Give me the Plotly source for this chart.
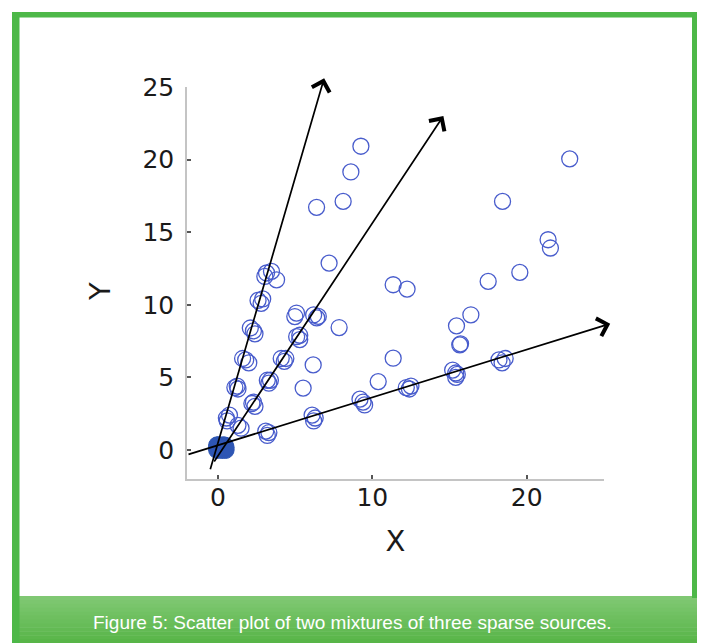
import plotly.graph_objects as go

# ---------------- data ----------------
# open-circle observations (x1, x2 mixtures)
x_vals = [
    # steep direction clusters
    3.15, 3.47, 3.80, 3.04,
    2.60, 2.80, 2.90,
    2.10, 2.30, 2.40,
    1.60, 1.80, 2.00,
    1.10, 1.30, 1.25,
    0.55, 0.75, 0.60,
    # middle direction clusters
    1.30, 1.50,
    2.20, 2.40, 2.30,
    3.20, 3.30, 3.40,
    4.10, 4.30, 4.40,
    5.10, 5.30, 5.30,
    5.09, 4.98,
    6.20, 6.40, 6.50,
    # shallow direction clusters
    3.10, 3.30, 3.20,
    6.10, 6.30, 6.20,
    9.20, 9.40, 9.50,
    12.20, 12.40, 12.50,
    15.20, 15.40, 15.40, 15.50,
    18.20, 18.40, 18.60,
    # mixed points
    6.17, 5.52, 7.85, 7.20, 6.39, 8.11, 8.61, 9.26,
    10.38, 11.35, 11.35, 12.25, 15.66,
    15.45, 16.38, 15.71, 17.50, 19.55, 21.38, 21.53, 18.43, 22.78,
]
y_vals = [
    12.19, 12.30, 11.72, 11.95,
    10.30, 10.10, 10.40,
    8.40, 8.20, 8.00,
    6.30, 6.20, 6.00,
    4.30, 4.20, 4.40,
    2.20, 2.40, 2.00,
    1.70, 1.50,
    3.20, 3.00, 3.30,
    4.80, 4.60, 4.80,
    6.30, 6.10, 6.30,
    7.80, 7.60, 7.90,
    9.43, 9.19,
    9.30, 9.10, 9.20,
    1.30, 1.20, 1.00,
    2.40, 2.20, 2.00,
    3.50, 3.30, 3.10,
    4.30, 4.20, 4.40,
    5.50, 5.30, 5.00, 5.20,
    6.20, 6.00, 6.30,
    5.86, 4.26, 8.43, 12.87, 16.71, 17.12, 19.15, 20.92,
    4.71, 6.32, 11.38, 11.08, 7.24,
    8.55, 9.31, 7.31, 11.61, 12.23, 14.48, 13.91, 17.12, 20.05,
]

# dense cluster of near-zero observations at the origin
x_origin = [-0.05, 0.10, 0.30, 0.45, 0.50, 0.20, 0.00, 0.35, -0.05, 0.45, 0.25, 0.15, 0.50, -0.05]
y_origin = [0.00, 0.32, 0.05, 0.30, 0.00, 0.20, 0.30, 0.32, 0.18, 0.15, 0.00, 0.10, 0.18, 0.32]

# estimated mixing directions drawn as arrows (tail -> head)
arrow_tail_x = [-0.52, -0.30, -2.00]
arrow_tail_y = [-1.43, -0.90, -0.34]
arrow_head_x = [6.88, 14.60, 25.40]
arrow_head_y = [25.60, 23.00, 8.70]

x_tick_vals = [0, 10, 20, 25]
x_tick_text = ["0", "10", "20", ""]
y_tick_vals = [0, 5, 10, 15, 20, 25]
y_tick_text = ["0", "5", "10", "15", "20", "25"]

caption = "Figure 5: Scatter plot of two mixtures of three sparse sources."

# ---------------- layout geometry ----------------
W, H = 702, 643
ML, MR, MT, MB = 187, 98, 87, 164
PW, PH = W - ML - MR, H - MT - MB


def px(xp):
    return (xp - ML) / PW


def py(yp):
    return (H - MB - yp) / PH


circle_color = "rgb(72,92,204)"
blob_color = "rgb(46,86,180)"

fig = go.Figure()
fig.add_trace(go.Scatter(
    x=x_origin, y=y_origin, mode="markers",
    marker=dict(symbol="circle", size=17, color=blob_color,
                line=dict(color=blob_color, width=1.0)),
    hoverinfo="skip", showlegend=False, cliponaxis=False,
))
fig.add_trace(go.Scatter(
    x=x_vals, y=y_vals, mode="markers",
    marker=dict(symbol="circle-open", size=16, color=circle_color,
                line=dict(color=circle_color, width=1.3)),
    showlegend=False, cliponaxis=False,
))

annotations = []
for tx, ty, hx, hy in zip(arrow_tail_x, arrow_tail_y, arrow_head_x, arrow_head_y):
    annotations.append(dict(
        x=hx, y=hy, ax=tx, ay=ty,
        xref="x", yref="y", axref="x", ayref="y",
        text="", showarrow=True,
        arrowhead=4, arrowsize=2.1, arrowwidth=1.7, arrowcolor="black",
        standoff=0, startstandoff=0,
    ))

title_font = dict(family="DejaVu Sans, sans-serif", size=29, color="#1a1a1a")
tick_font = dict(family="DejaVu Sans, sans-serif", size=25, color="#1a1a1a")

# y-axis title
annotations.append(dict(
    x=px(100), y=py(292), xref="paper", yref="paper",
    text="Y", showarrow=False, textangle=-90, font=title_font,
    xanchor="center", yanchor="middle",
))

annotations.append(dict(
    x=px(352), y=py(622), xref="paper", yref="paper",
    text=caption, showarrow=False,
    font=dict(family="Liberation Sans, Arial, sans-serif", size=19, color="white"),
    xanchor="center", yanchor="middle",
))

shapes = []
# caption band with a soft vertical gradient
band_top, band_bot = 596, 643
n_strips = 12
c_top = (128, 200, 115)
c_bot = (88, 181, 72)
for i in range(n_strips):
    t = i / (n_strips - 1)
    col = tuple(round(a + (b - a) * t) for a, b in zip(c_top, c_bot))
    y0 = band_top + (band_bot - band_top) * i / n_strips
    y1 = band_top + (band_bot - band_top) * (i + 1) / n_strips
    shapes.append(dict(
        type="rect", xref="paper", yref="paper",
        x0=px(12), x1=px(697), y0=py(y1 + 0.5), y1=py(y0),
        fillcolor="rgb(%d,%d,%d)" % col, line=dict(width=0), layer="below",
    ))
# green frame
frame_col = "rgb(77,184,72)"
shapes.append(dict(type="rect", xref="paper", yref="paper",
                   x0=px(12), x1=px(19.5), y0=py(643), y1=py(12),
                   fillcolor=frame_col, line=dict(width=0), layer="below"))
shapes.append(dict(type="rect", xref="paper", yref="paper",
                   x0=px(12), x1=px(697), y0=py(17.5), y1=py(12),
                   fillcolor=frame_col, line=dict(width=0), layer="below"))
shapes.append(dict(type="rect", xref="paper", yref="paper",
                   x0=px(692), x1=px(697), y0=py(598), y1=py(12),
                   fillcolor=frame_col, line=dict(width=0), layer="below"))

fig.update_layout(
    width=W, height=H,
    margin=dict(l=ML, r=MR, t=MT, b=MB, pad=0),
    paper_bgcolor="white", plot_bgcolor="white",
    annotations=annotations, shapes=shapes,
    xaxis=dict(
        range=[-2, 25], tickmode="array", tickvals=x_tick_vals, ticktext=x_tick_text,
        showgrid=False, zeroline=False, showline=True, linecolor="#c4c4c4", linewidth=1.5,
        ticks="inside", ticklen=4, tickwidth=1.5, tickcolor="#555",
        tickfont=tick_font, ticklabelstandoff=-5,
        title=dict(text="X", font=title_font, standoff=20),
        automargin=False,
    ),
    yaxis=dict(
        range=[-2, 25], tickmode="array", tickvals=y_tick_vals, ticktext=y_tick_text,
        showgrid=False, zeroline=False, showline=True, linecolor="#c4c4c4", linewidth=1.5,
        ticks="inside", ticklen=4, tickwidth=1.5, tickcolor="#555",
        tickfont=tick_font, ticklabelstandoff=6,
        automargin=False,
    ),
)

fig.write_html(
    "out.html",
    config={"displayModeBar": False},
    post_script="document.body.style.margin='0';document.body.style.overflow='hidden';",
)
